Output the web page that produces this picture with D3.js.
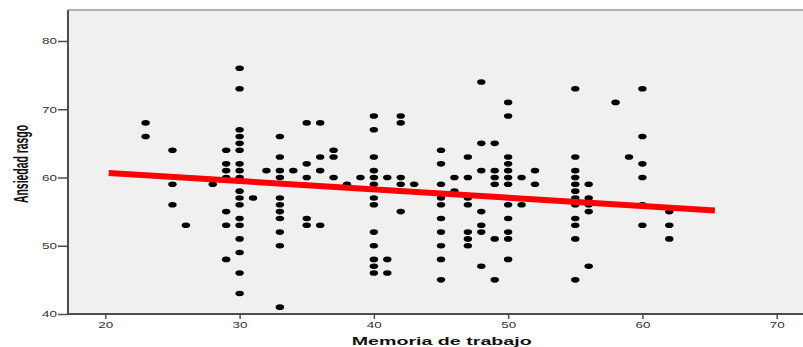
<!DOCTYPE html>
<html>
<head>
<meta charset="utf-8">
<script src="https://cdn.jsdelivr.net/npm/d3@7"></script>
<style>
  html, body { margin: 0; padding: 0; background: #fff; }
  svg { display: block; font-family: "Liberation Sans", Arial, sans-serif; }
</style>
</head>
<body>
<svg id="chart" width="803" height="347"></svg>
<script>
// Memoria de trabajo values (one column of dots each)
const memoria = [23, 25, 26, 28, 29, 30, 31, 32, 33, 34, 35, 36, 37, 38, 39, 40, 41, 42, 43,
                 45, 46, 47, 48, 49, 50, 51, 52, 55, 56, 58, 59, 60, 62];
// Ansiedad rasgo values read for each column above
const ansiedad = [
    [68, 66],
    [64, 59, 56],
    [53],
    [59],
    [64, 62, 61, 60, 55, 53, 48],
    [76, 73, 67, 66, 65, 64, 62, 61, 60, 58, 57, 56, 54, 53, 51, 49, 46, 43],
    [57],
    [61],
    [66, 63, 61, 60, 57, 56, 55, 54, 52, 50, 41],
    [61],
    [68, 62, 60, 54, 53],
    [68, 63, 61, 53],
    [64, 63, 60],
    [59],
    [60],
    [69, 67, 63, 61, 60, 59, 57, 56, 52, 50, 48, 47, 46],
    [60, 48, 46],
    [69, 68, 60, 59, 55],
    [59],
    [64, 62, 59, 57, 56, 54, 52, 50, 48, 45],
    [60, 58],
    [63, 60, 57, 56, 52, 51, 50],
    [74, 65, 61, 55, 53, 52, 47],
    [65, 61, 60, 59, 51, 45],
    [71, 69, 63, 62, 61, 60, 59, 56, 54, 52, 51, 48],
    [60, 56],
    [61, 59],
    [73, 63, 61, 60, 59, 58, 57, 56, 54, 53, 51, 45],
    [59, 57, 56, 55, 47],
    [71],
    [63],
    [73, 66, 62, 60, 56, 53],
    [55, 53, 51]
];
// fit line end points
const fitX = [20.25, 65.4];
const fitY = [60.67, 55.16];

const xTicks = [20, 30, 40, 50, 60, 70];
const yTicks = [40, 50, 60, 70, 80];

const svg = d3.select('#chart');
const plotLeft = 68, plotRight = 803, plotTop = 10, plotBottom = 314;

const x = d3.scaleLinear().domain([17.22, 71.96]).range([plotLeft, plotRight]);
const y = d3.scaleLinear().domain([40, 84.54]).range([plotBottom, plotTop]);

const points = memoria.flatMap((m, i) => ansiedad[i].map(a => ({ m, a })));

// plot background
svg.append('rect')
    .attr('x', plotLeft).attr('y', plotTop)
    .attr('width', plotRight - plotLeft).attr('height', plotBottom - plotTop)
    .attr('fill', '#f0f0f0');
svg.append('line')
    .attr('x1', plotLeft).attr('x2', plotRight).attr('y1', plotTop).attr('y2', plotTop)
    .attr('stroke', '#9a9a9a').attr('stroke-width', 1.5);

// dots
svg.append('g').selectAll('ellipse').data(points).enter()
    .append('ellipse')
    .attr('cx', d => x(d.m))
    .attr('cy', d => y(d.a))
    .attr('rx', 4.2).attr('ry', 2.8)
    .attr('fill', '#000');

// fit line
svg.append('line')
    .attr('x1', x(fitX[0])).attr('y1', y(fitY[0]))
    .attr('x2', x(fitX[1])).attr('y2', y(fitY[1]))
    .attr('stroke', '#ff0000').attr('stroke-width', 6);

// axes
const xAxis = svg.append('g')
    .attr('transform', `translate(0,${plotBottom})`)
    .call(d3.axisBottom(x).tickValues(xTicks).tickSize(5).tickPadding(3).tickSizeOuter(0));
const yAxis = svg.append('g')
    .attr('transform', `translate(${plotLeft},0)`)
    .call(d3.axisLeft(y).tickValues(yTicks).tickSize(10).tickPadding(1).tickSizeOuter(0));

[xAxis, yAxis].forEach(g => {
    g.select('.domain').attr('stroke', '#4d4d4d').attr('stroke-width', 2);
    g.selectAll('.tick line').attr('stroke', '#4d4d4d').attr('stroke-width', 1.5);
    g.selectAll('.tick text')
        .attr('fill', '#333')
        .style('font-size', '8.5px')
        .attr('textLength', 15)
        .attr('lengthAdjust', 'spacingAndGlyphs');
});
xAxis.select('.domain').attr('d', `M${plotLeft},0H${plotRight}`);
yAxis.select('.domain').attr('d', `M0,${plotTop}V${plotBottom}`);
yAxis.selectAll('.tick text').attr('dy', '0.35em');

// axis titles
svg.append('text')
    .attr('x', 441.7).attr('y', 345)
    .attr('text-anchor', 'middle')
    .attr('font-weight', 'bold')
    .attr('font-size', 11)
    .attr('fill', '#111')
    .attr('textLength', 180)
    .attr('lengthAdjust', 'spacingAndGlyphs')
    .text('Memoria de trabajo');

svg.append('text')
    .attr('transform', 'translate(27.5,164) rotate(-90)')
    .attr('text-anchor', 'middle')
    .attr('font-weight', 'bold')
    .attr('font-size', 20)
    .attr('fill', '#111')
    .attr('textLength', 78)
    .attr('lengthAdjust', 'spacingAndGlyphs')
    .text('Ansiedad rasgo');
</script>
</body>
</html>
